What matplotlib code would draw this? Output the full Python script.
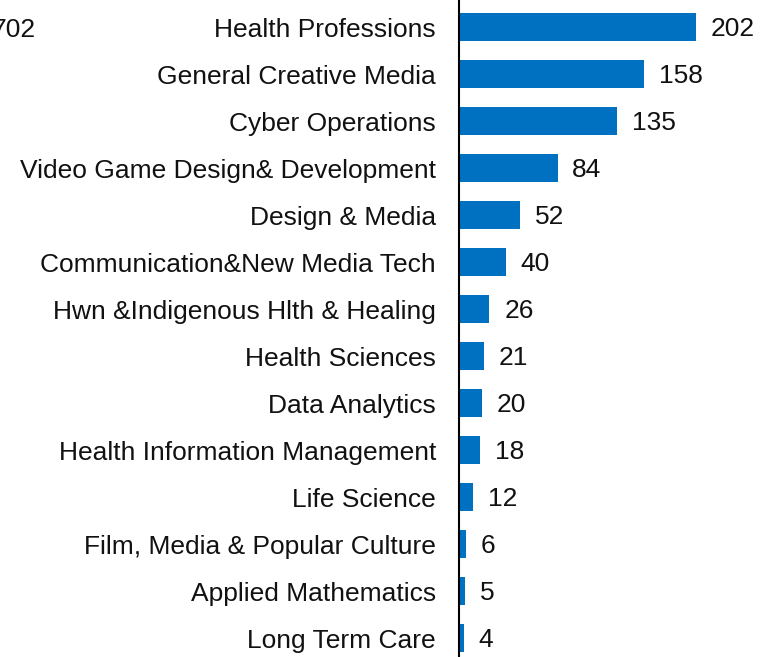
import matplotlib

matplotlib.use("Agg")
import matplotlib.pyplot as plt

programs = [
    "Health Professions",
    "General Creative Media",
    "Cyber Operations",
    "Video Game Design& Development",
    "Design & Media",
    "Communication&New Media Tech",
    "Hwn &Indigenous Hlth & Healing",
    "Health Sciences",
    "Data Analytics",
    "Health Information Management",
    "Life Science",
    "Film, Media & Popular Culture",
    "Applied Mathematics",
    "Long Term Care",
]
counts = [202, 158, 135, 84, 52, 40, 26, 21, 20, 18, 12, 6, 5, 4]
total_label = "702"

plt.rcParams["font.family"] = ["Liberation Sans", "DejaVu Sans"]
FS = 19

fig = plt.figure(figsize=(7.61, 6.57), dpi=100)
ax = fig.add_axes([459 / 761, 0, 1 - 459 / 761, 1])

ypos = list(range(len(programs)))
ax.barh(ypos, counts, height=0.6, color="#0070C0")
for y, v in zip(ypos, counts):
    ax.text(v + 12.5, y + 0.04, str(v), va="center", ha="left", fontsize=FS,
            color="#111111")

ax.set_xlim(0, 257.5)
ax.set_ylim(13.404, -0.575)
ax.set_yticks(ypos)
ax.set_yticklabels(programs, fontsize=FS, color="#111111")
ax.tick_params(axis="y", length=0, pad=16.5)
ax.set_xticks([])
for side in ("top", "right", "bottom"):
    ax.spines[side].set_visible(False)
ax.spines["left"].set_linewidth(1.5)
ax.spines["left"].set_color("black")

fig.text(36 / 761, 1 - 30 / 657, total_label, ha="right", va="center",
         fontsize=FS, color="#111111")

fig.savefig("out.png", dpi=100)
plt.close(fig)
